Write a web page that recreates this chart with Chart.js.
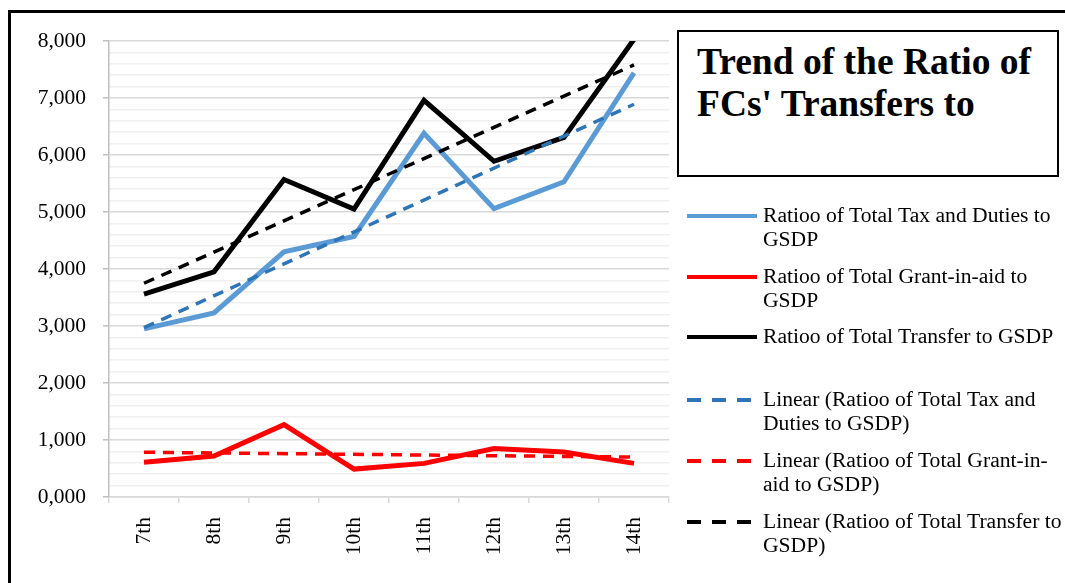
<!DOCTYPE html>
<html>
<head>
<meta charset="utf-8">
<script src="https://cdn.jsdelivr.net/npm/chart.js@4.4.1/dist/chart.umd.min.js"></script>
<style>
  html, body { margin: 0; padding: 0; background: #fff; }
  body { width: 1065px; height: 583px; position: relative; overflow: hidden; font-family: 'Liberation Serif', 'Times New Roman', serif; }
  #frame { position: absolute; left: 8px; top: 10px; width: 1100px; height: 620px; border: 3px solid #000; box-sizing: border-box; }
  #wrap { position: absolute; left: 0; top: 0; width: 1065px; height: 583px; }
  #titleBox { position: absolute; left: 677px; top: 30px; width: 382px; height: 147px; border: 2px solid #000; box-sizing: border-box;
              padding: 9px 0 0 18px; font-weight: bold; font-size: 37.5px; line-height: 42px; color: #000; background: #fff; }
  .leg { position: absolute; left: 687px; font-size: 21.6px; line-height: 24px; color: #000; white-space: nowrap; }
  .leg svg { position: absolute; left: 0; top: 10px; }
  .leg span { position: absolute; left: 76px; top: 0; }
</style>
</head>
<body>
<div id="frame"></div>
<div id="wrap"><canvas id="myChart" width="1065" height="583"></canvas></div>
<div id="titleBox">Trend of the Ratio of<br>FCs' Transfers to</div>
<div id="legend"></div>
<script>
// categories (Finance Commissions)
const categories = ['7th', '8th', '9th', '10th', '11th', '12th', '13th', '14th'];

// series values
const taxRatio = [2950, 3230, 4300, 4570, 6380, 5060, 5530, 7440];
const grantRatio = [610, 720, 1270, 490, 590, 850, 790, 590];
const transferRatio = [3560, 3950, 5570, 5050, 6960, 5890, 6310, 8030];

// linear trend lines, end values
const taxTrend = [2970, null, null, null, null, null, null, 6890];
const grantTrend = [785, null, null, null, null, null, null, 700];
const transferTrend = [3750, null, null, null, null, null, null, 7580];

// y tick labels as printed on the axis
const yTickLabels = ['0,000', '1,000', '2,000', '3,000', '4,000', '5,000', '6,000', '7,000', '8,000'];

const seriesNames = [
    'Ratioo of Total Tax and Duties to<br>GSDP',
    'Ratioo of Total Grant-in-aid to<br>GSDP',
    'Ratioo of Total Transfer to GSDP',
    'Linear (Ratioo of Total Tax and<br>Duties to GSDP)',
    'Linear (Ratioo of Total Grant-in-<br>aid to GSDP)',
    'Linear (Ratioo of Total Transfer to<br>GSDP)'
];

const blue = '#5B9BD5', darkBlue = '#2E75B6', red = '#FF0000', black = '#000000';
const serif = "'Liberation Serif', 'Times New Roman', serif";

function solid(label, data, color) {
    return { label: label, data: data, borderColor: color, backgroundColor: color,
             borderWidth: 5, pointRadius: 0, tension: 0, borderJoinStyle: 'miter' };
}
function dashed(label, data, color) {
    return { label: label, data: data, borderColor: color, backgroundColor: color,
             borderWidth: 3.5, borderDash: [11, 8], pointRadius: 0, spanGaps: true, tension: 0 };
}

var ctx = document.getElementById('myChart').getContext('2d');
var myChart = new Chart(ctx, {
    type: 'line',
    data: {
        labels: categories,
        datasets: [
            dashed('Linear tax', taxTrend, darkBlue),
            dashed('Linear grant', grantTrend, red),
            dashed('Linear transfer', transferTrend, black),
            solid('Tax', taxRatio, blue),
            solid('Grant', grantRatio, red),
            solid('Transfer', transferRatio, black)
        ]
    },
    options: {
        responsive: false,
        animation: false,
        events: [],
        layout: { padding: { top: 41, right: 396, bottom: 0, left: 0 } },
        plugins: { legend: { display: false }, tooltip: { enabled: false }, title: { display: false } },
        scales: {
            x: {
                offset: true,
                grid: { offset: true, drawOnChartArea: false, drawTicks: true, tickLength: 6, color: '#d9d9d9', lineWidth: 1.5 },
                border: { color: '#d9d9d9', width: 1.5 },
                ticks: { minRotation: 90, maxRotation: 90, padding: 14, color: '#000', font: { family: serif, size: 21.5 } },
                afterFit: function(scale) { scale.height = 86; }
            },
            y: {
                min: 0,
                max: 8000,
                ticks: {
                    stepSize: 200,
                    autoSkip: false,
                    padding: 17,
                    color: '#000',
                    font: { family: serif, size: 21.5 },
                    callback: function(value) {
                        return value % 1000 === 0 ? yTickLabels[value / 1000] : '';
                    }
                },
                grid: {
                    tickLength: 6,
                    color: function(c) { return c.tick && c.tick.value % 1000 === 0 ? '#d9d9d9' : '#efefef'; },
                    tickColor: function(c) { return c.tick && c.tick.value % 1000 === 0 ? '#bfbfbf' : 'rgba(0,0,0,0)'; },
                    lineWidth: 1.5
                },
                border: { color: '#bfbfbf', width: 1.5 },
                afterFit: function(scale) { scale.width = 109; }
            }
        }
    }
});

// legend built as html so the long names can wrap like the original
const legendTops = [203, 264, 324, 387, 448, 509];
const legendColors = [blue, red, black, darkBlue, red, black];
let html = '';
seriesNames.forEach((name, i) => {
    const isDash = i >= 3;
    const line = isDash
        ? `<svg width="70" height="6"><line x1="0" y1="3" x2="66" y2="3" stroke="${legendColors[i]}" stroke-width="4" stroke-dasharray="14 11"/></svg>`
        : `<svg width="70" height="6"><line x1="0" y1="3" x2="70" y2="3" stroke="${legendColors[i]}" stroke-width="4"/></svg>`;
    html += `<div class="leg" style="top:${legendTops[i]}px">${line}<span>${name}</span></div>`;
});
document.getElementById('legend').innerHTML = html;
</script>
</body>
</html>
